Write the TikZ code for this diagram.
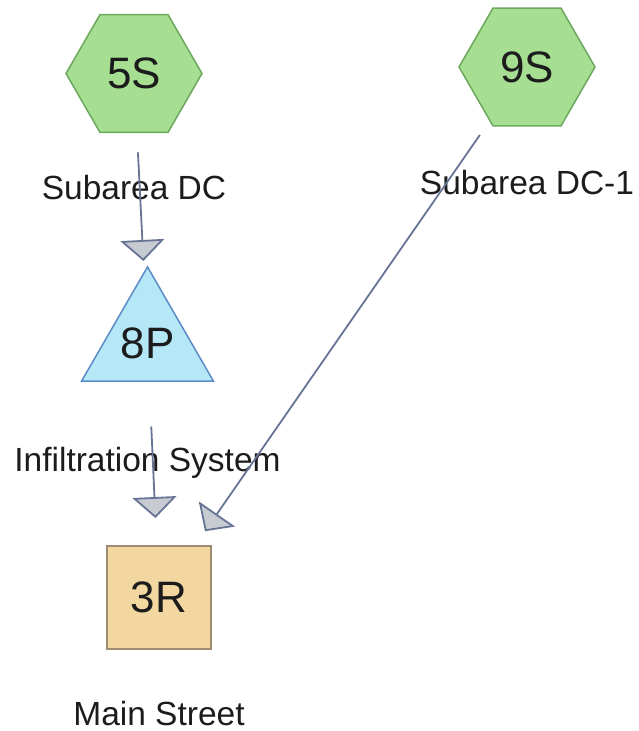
\documentclass[tikz,border=0pt]{standalone}
\usepackage{fontspec}
\setmainfont{Liberation Sans}
\usetikzlibrary{positioning, arrows.meta, shapes.geometric}

\definecolor{subfill}{RGB}{166,222,146}
\definecolor{subdraw}{RGB}{108,168,94}
\definecolor{pondfill}{RGB}{180,232,246}
\definecolor{ponddraw}{RGB}{92,140,200}
\definecolor{reachfill}{RGB}{242,216,160}
\definecolor{reachdraw}{RGB}{160,140,112}
\definecolor{routedraw}{RGB}{104,116,150}
\definecolor{tipfill}{RGB}{200,204,210}
\definecolor{textdark}{RGB}{28,28,28}

\tikzstyle{subcatch} = [regular polygon, regular polygon sides=6, draw=subdraw, fill=subfill, line width=0.75pt, minimum size=68pt, inner sep=0pt, outer sep=0pt, text=textdark, font=\fontsize{22}{26}\selectfont]
\tikzstyle{pond} = [regular polygon, regular polygon sides=3, draw=ponddraw, fill=pondfill, line width=0.75pt, minimum size=75pt, inner sep=0pt, outer sep=0pt, text=textdark, font=\fontsize{22}{26}\selectfont]
\tikzstyle{reach} = [rectangle, draw=reachdraw, fill=reachfill, line width=0.75pt, minimum width=52pt, minimum height=51.5pt, inner sep=0pt, outer sep=0pt, text=textdark, font=\fontsize{22}{26}\selectfont]
\tikzstyle{caption} = [inner sep=0pt, text=textdark, font=\fontsize{16.75}{20}\selectfont]
\tikzstyle{route} = [draw=routedraw, line width=0.9pt, -{Triangle[width=22pt, length=10.5pt, fill=tipfill]}]

\begin{document}
\begin{tikzpicture}

  \useasboundingbox (0pt,0pt) rectangle (319pt,-365.5pt);

  % Subcatchments (top row)
  \node (sub5) [subcatch] at (67pt,-36.75pt) {5S};
  \node (sub9) [subcatch] at (263.5pt,-33.5pt) {9S};

  % Pond and reach (left column)
  \node (pond8) [pond] at (73.75pt,-171.5pt) {8P};
  \node (reach3) [reach] at (79.5pt,-298.75pt) {3R};

  % Captions
  \node (sub5_name) [caption, below=21pt of sub5] {Subarea DC};
  \node (sub9_name) [caption, below=22pt of sub9] {Subarea DC-1};
  \node (pond8_name) [caption, below=32.75pt of pond8] {Infiltration System};
  \node (reach3_name) [caption, below=26pt of reach3] {Main Street};

  % Routing links
  \draw[route, shorten <=10pt, shorten >=6pt] (sub5) -- (pond8);
  \draw[route, shorten <=22.75pt, shorten >=14pt] (pond8) -- (reach3);
  \draw[route, shorten <=8.8pt, shorten >=9pt] (sub9) -- (reach3);

\end{tikzpicture}
\end{document}
